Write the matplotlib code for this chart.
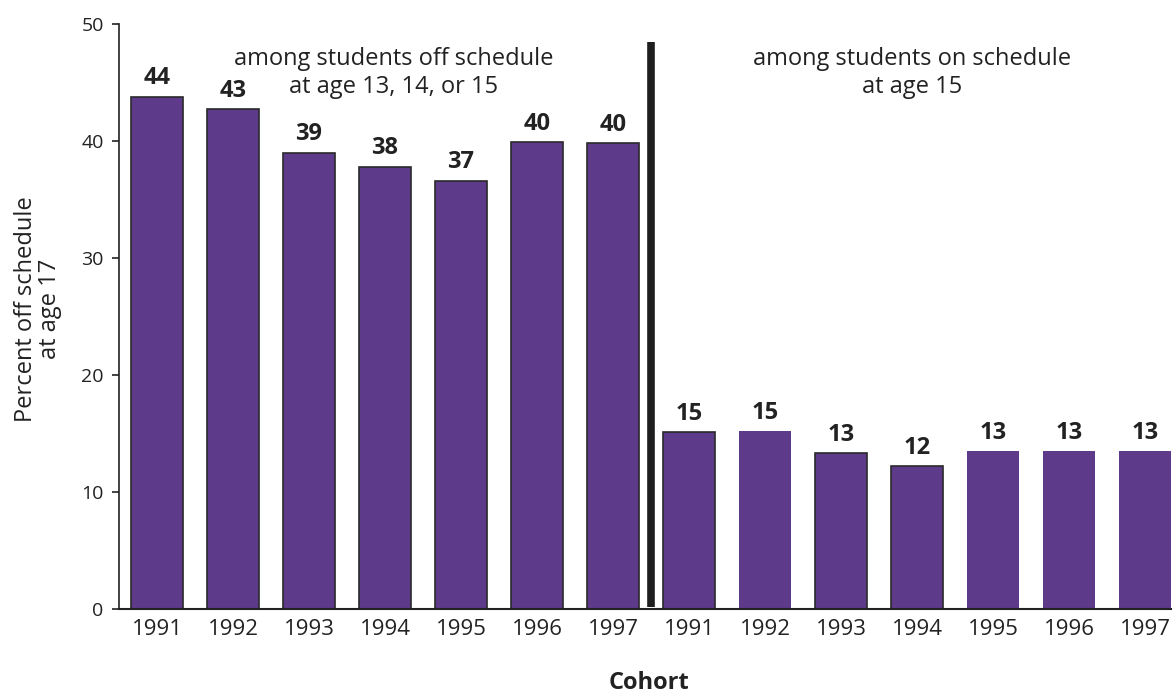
import matplotlib
matplotlib.use("Agg")
import matplotlib.pyplot as plt

plt.rcParams['font.family'] = ['Open Sans', 'DejaVu Sans']

years = ["1991", "1992", "1993", "1994", "1995", "1996", "1997"]
off_schedule = [43.8, 42.7, 39.0, 37.8, 36.6, 39.9, 39.8]
on_schedule = [15.1, 15.2, 13.3, 12.2, 13.5, 13.5, 13.5]
off_labels = ["44", "43", "39", "38", "37", "40", "40"]
on_labels = ["15", "15", "13", "12", "13", "13", "13"]
yticks = [0, 10, 20, 30, 40, 50]

tick_labels = years + years
values = off_schedule + on_schedule
labels = off_labels + on_labels
edges = ['#2a2a2a'] * 7 + ['#2a2a2a', 'none', '#2a2a2a', '#2a2a2a', 'none', 'none', 'none']

fig = plt.figure(figsize=(11.72, 6.94), dpi=100)
ax = fig.add_axes([119 / 1172, 85 / 694, 1053 / 1172, 585 / 694])

purple = '#5E3A8A'
x = list(range(len(values)))
for xi, v, ec, lab in zip(x, values, edges, labels):
    ax.bar(xi, v, width=0.68, color=purple, edgecolor=ec, linewidth=1.2 if ec != 'none' else 0)
    ax.text(xi, v + 0.55, lab, ha='center', va='bottom', fontsize=17, fontweight='bold', color='#222222')

ax.plot([6.5, 6.5], [0.2, 48.5], color='#1e1e1e', linewidth=5.5, solid_capstyle='butt')

ax.set_xlim(-0.5, 13.355)
ax.set_ylim(0, 50)
ax.set_yticks(yticks)
ax.set_yticklabels([str(t) for t in yticks], fontsize=14, color='#222222')
ax.set_xticks(x)
ax.set_xticklabels(tick_labels, fontsize=16, color='#222222')
ax.tick_params(axis='x', length=0, pad=7)
ax.tick_params(axis='y', length=5, width=1.2, color='#222222', pad=6)

for s in ['top', 'right']:
    ax.spines[s].set_visible(False)
ax.spines['left'].set_color('#222222')
ax.spines['left'].set_linewidth(1.2)
ax.spines['bottom'].set_color('#222222')
ax.spines['bottom'].set_linewidth(1.5)

ann_style = dict(ha='center', va='baseline', fontsize=17, color='#222222')
ax.text(3.11, 46.5, "among students off schedule", **ann_style)
ax.text(3.11, 44.1, "at age 13, 14, or 15", **ann_style)
ax.text(9.93, 46.5, "among students on schedule", **ann_style)
ax.text(9.93, 44.1, "at age 15", **ann_style)

fig.text(38 / 1172, 1 - 309 / 694, "Percent off schedule\nat age 17", rotation=90, ha='center',
         va='center', multialignment='center', fontsize=17, color='#222222', linespacing=1.05)
fig.text(649 / 1172, 1 - 683 / 694, "Cohort", ha='center', va='center', fontsize=17,
         fontweight='bold', color='#222222')

fig.savefig("out.png", dpi=100)
